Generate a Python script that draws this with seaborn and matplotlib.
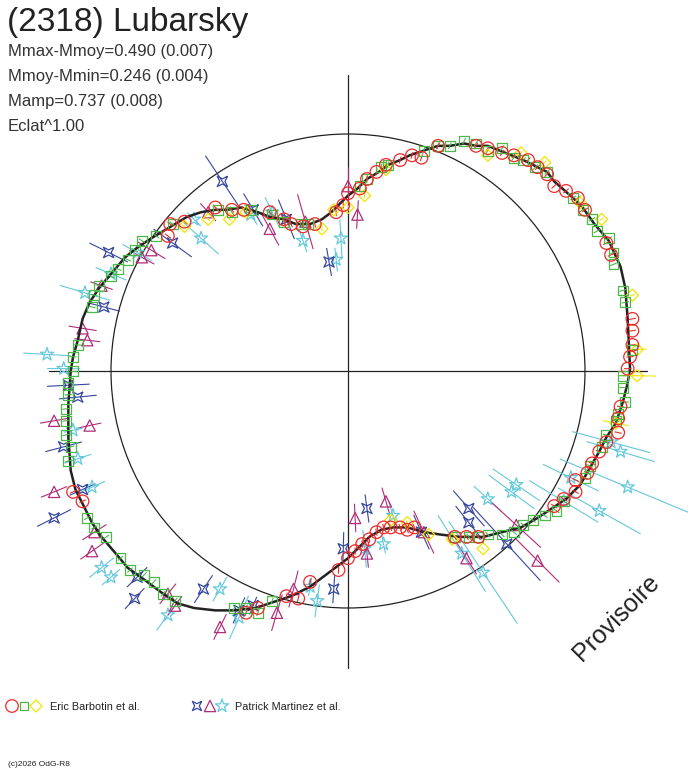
import numpy as np
import matplotlib
matplotlib.use("Agg")
import matplotlib.pyplot as plt
from matplotlib.collections import LineCollection
from matplotlib.patches import Circle
import pandas as pd
import seaborn as sns

# ---------------- text ----------------
TITLE = "(2318) Lubarsky"
STATS = ["Mmax-Mmoy=0.490 (0.007)", "Mmoy-Mmin=0.246 (0.004)",
         "Mamp=0.737 (0.008)", "Eclat^1.00"]
OBS1 = "Eric Barbotin et al."
OBS2 = "Patrick Martinez et al."
WATERMARK = "Provisoire"
COPYRIGHT = "(c)2026 OdG-R8"

# ---------------- data (units: reference circle radius = 1) ----------------
# fitted light curve, polar representation (x, y)
fit_curve = [
    (1.19, 0.01), (1.18, 0.22), (1.17, 0.35), (1.15, 0.44), (1.10, 0.55), (1.04, 0.62),
    (0.99, 0.69), (0.95, 0.73), (0.87, 0.80), (0.84, 0.84), (0.80, 0.86), (0.74, 0.89),
    (0.69, 0.91), (0.64, 0.93), (0.59, 0.95), (0.54, 0.95), (0.49, 0.96), (0.43, 0.95),
    (0.38, 0.95), (0.32, 0.93), (0.26, 0.91), (0.22, 0.89), (0.17, 0.87), (0.13, 0.84),
    (0.08, 0.81), (0.04, 0.77), (0.00, 0.74), (-0.03, 0.71), (-0.07, 0.67), (-0.11, 0.64),
    (-0.16, 0.62), (-0.22, 0.62), (-0.27, 0.64), (-0.33, 0.65), (-0.38, 0.67), (-0.45, 0.69),
    (-0.51, 0.68), (-0.56, 0.68), (-0.62, 0.67), (-0.68, 0.65), (-0.73, 0.62), (-0.78, 0.59),
    (-0.83, 0.56), (-0.89, 0.52), (-0.94, 0.48), (-1.00, 0.41), (-1.05, 0.35), (-1.09, 0.29),
    (-1.12, 0.22), (-1.14, 0.13), (-1.16, 0.06), (-1.17, 0.00), (-1.18, -0.14), (-1.18, -0.28),
    (-1.17, -0.42), (-1.15, -0.50), (-1.12, -0.56), (-1.08, -0.64), (-1.04, -0.70), (-0.98, -0.77),
    (-0.93, -0.83), (-0.86, -0.88), (-0.78, -0.94), (-0.72, -0.98), (-0.65, -1.00), (-0.56, -1.01),
    (-0.48, -1.01), (-0.39, -1.00), (-0.33, -0.98), (-0.24, -0.95), (-0.16, -0.91), (-0.08, -0.85),
    (0.00, -0.79), (0.05, -0.74), (0.09, -0.70), (0.14, -0.67), (0.19, -0.66), (0.25, -0.66),
    (0.32, -0.68), (0.39, -0.69), (0.47, -0.70), (0.57, -0.70), (0.65, -0.68), (0.73, -0.66),
    (0.80, -0.62), (0.86, -0.58), (0.92, -0.54), (0.98, -0.48), (1.02, -0.41), (1.06, -0.34),
    (1.09, -0.28), (1.13, -0.22), (1.16, -0.13), (1.18, -0.05), (1.19, 0.01),
]

# Barbotin: red circles (x, y)
barbotin_red = [
    (0.54, 0.95), (0.59, 0.94), (0.65, 0.92), (0.70, 0.91), (0.76, 0.89), (0.80, 0.86),
    (0.84, 0.83), (0.87, 0.78), (0.92, 0.76), (0.97, 0.73), (1.00, 0.68), (1.09, 0.54),
    (1.11, 0.49), (1.20, 0.22), (1.20, 0.17), (1.20, 0.11), (1.19, 0.06), (1.18, 0.01),
    (1.15, -0.15), (1.14, -0.20), (1.14, -0.26), (1.09, -0.30), (1.06, -0.34), (1.03, -0.39),
    (1.01, -0.43), (0.96, -0.46), (0.96, -0.51), (0.91, -0.54), (0.87, -0.57), (0.55, -0.70),
    (0.50, -0.70), (0.45, -0.70), (0.28, -0.66), (0.25, -0.67), (0.22, -0.66), (0.18, -0.66),
    (0.15, -0.66), (0.12, -0.68), (0.09, -0.71), (0.06, -0.73), (0.03, -0.76), (0.00, -0.79),
    (-0.04, -0.84), (-0.16, -0.89), (-0.21, -0.96), (-0.26, -0.95), (-0.38, -1.00), (-0.43, -1.02),
    (-1.12, -0.55), (-1.16, -0.51), (-0.44, 0.68), (-0.33, 0.67), (-0.27, 0.64), (-0.24, 0.62),
    (-0.19, 0.61), (-0.14, 0.62), (-0.05, 0.67), (-0.02, 0.70), (0.00, 0.75), (0.05, 0.77),
    (0.08, 0.81), (0.12, 0.84), (0.16, 0.87), (0.22, 0.89), (0.27, 0.91), (0.31, 0.90),
    (0.38, 0.95), (-0.75, 0.62), (-0.69, 0.63), (-0.76, 0.57), (-0.56, 0.69), (-0.49, 0.68),
]

# Barbotin: green squares (x, y)
barbotin_green = [
    (0.43, 0.95), (0.49, 0.97), (0.54, 0.96), (0.59, 0.93), (0.65, 0.94), (0.70, 0.90),
    (0.74, 0.89), (0.79, 0.86), (0.84, 0.84), (0.95, 0.73), (0.99, 0.68), (1.03, 0.64),
    (1.05, 0.59), (1.10, 0.56), (1.12, 0.50), (1.12, 0.45), (1.16, 0.34), (1.17, 0.29),
    (1.20, 0.09), (1.16, -0.02), (1.16, -0.07), (1.17, -0.13), (1.14, -0.18), (1.13, -0.21),
    (1.09, -0.27), (1.07, -0.32), (1.02, -0.40), (1.00, -0.45), (0.91, -0.55), (0.88, -0.59),
    (0.83, -0.61), (0.78, -0.63), (0.74, -0.65), (0.70, -0.68), (0.65, -0.69), (0.59, -0.69),
    (0.55, -0.70), (0.51, -0.70), (0.45, -0.70), (-0.32, -0.97), (-0.38, -1.02), (-0.43, -1.00),
    (-0.48, -1.00), (-0.73, -0.97), (-0.78, -0.94), (-0.82, -0.89), (-0.86, -0.86), (-0.92, -0.84),
    (-0.96, -0.79), (-1.02, -0.70), (-1.07, -0.66), (-1.10, -0.62), (-1.18, -0.38), (-1.17, -0.32),
    (-1.19, -0.27), (-1.19, -0.21), (-1.19, -0.16), (-1.18, -0.10), (-1.18, -0.05), (-1.16, 0.00),
    (-1.16, 0.06), (-1.14, 0.11), (-1.08, 0.27), (-1.07, 0.32), (-1.05, 0.36), (-1.00, 0.40),
    (-0.97, 0.43), (-0.93, 0.47), (-0.90, 0.51), (-0.87, 0.55), (-0.81, 0.57), (-0.74, 0.62),
    (-0.55, 0.68), (-0.49, 0.67), (-0.41, 0.68), (-0.32, 0.66), (-0.27, 0.63), (-0.20, 0.62),
    (-0.17, 0.62), (0.05, 0.78), (0.08, 0.81), (0.14, 0.86), (0.17, 0.87), (0.32, 0.93),
    (0.38, 0.95),
]

# Barbotin: yellow diamonds (x, y, radial error)
barbotin_yellow = [
    (0.59, 0.91, 0.01), (0.73, 0.92, 0.01), (0.83, 0.88, 0.01), (0.98, 0.71, 0.01),
    (1.07, 0.64, 0.01), (1.20, 0.32, 0.01), (1.22, 0.09, 0.04), (1.22, -0.02, 0.08),
    (1.13, -0.22, 0.055), (0.57, -0.75, 0.01), (0.44, -0.71, 0.01), (0.18, -0.63, 0.01),
    (0.25, -0.64, 0.01), (0.34, -0.69, 0.01), (-0.69, 0.61, 0.01), (-0.59, 0.64, 0.01),
    (-0.50, 0.64, 0.01), (-0.43, 0.67, 0.01), (-0.06, 0.68, 0.01), (0.00, 0.69, 0.01),
    (-0.11, 0.60, 0.01), (0.07, 0.74, 0.01), (0.16, 0.85, 0.01),
]
barbotin_err = 0.015

# Martinez: blue 4-point stars (x, y, radial error)
martinez_blue = [
    (-0.53, 0.80, 0.13), (-0.74, 0.54, 0.10), (-1.01, 0.50, 0.09), (-1.03, 0.27, 0.07),
    (-0.40, 0.68, 0.08), (-0.26, 0.64, 0.09), (-0.08, 0.46, 0.06), (-1.18, -0.06, 0.09),
    (-1.14, -0.11, 0.08), (-1.20, -0.32, 0.08), (-1.12, -0.50, 0.06), (-1.24, -0.62, 0.08),
    (-0.89, -0.87, 0.06), (-0.90, -0.96, 0.06), (-0.61, -0.92, 0.07), (-0.46, -1.01, 0.06),
    (-0.40, -0.99, 0.04), (-0.02, -0.75, 0.07), (-0.06, -0.92, 0.06), (0.08, -0.58, 0.06),
    (0.31, -0.68, 0.08), (0.51, -0.58, 0.10), (0.51, -0.64, 0.09), (0.67, -0.73, 0.21),
]

# Martinez: magenta triangles (x, y, radial error)
martinez_magenta = [
    (-0.83, 0.51, 0.07), (-0.87, 0.48, 0.06), (-1.04, 0.36, 0.05), (-1.12, 0.18, 0.06),
    (-1.10, 0.13, 0.055), (-0.59, 0.67, 0.05), (-0.33, 0.60, 0.08), (-0.18, 0.63, 0.12),
    (0.00, 0.78, 0.08), (0.04, 0.66, 0.06), (-1.24, -0.21, 0.06), (-1.09, -0.23, 0.05),
    (-1.24, -0.51, 0.06), (-1.07, -0.68, 0.06), (-1.08, -0.76, 0.06), (-0.76, -0.94, 0.055),
    (-0.73, -0.99, 0.05), (-0.54, -1.08, 0.06), (-0.23, -0.92, 0.08), (-0.30, -1.02, 0.08),
    (0.03, -0.62, 0.06), (0.16, -0.55, 0.06), (0.08, -0.77, 0.06), (0.32, -0.68, 0.10),
    (0.71, -0.65, 0.14), (0.80, -0.80, 0.13), (0.50, -0.79, 0.08),
]

# Martinez: cyan stars (x, y, radial error)
martinez_cyan = [
    (-0.62, 0.56, 0.10), (-0.65, 0.64, 0.04), (-0.89, 0.50, 0.07), (-1.00, 0.41, 0.07),
    (-1.11, 0.33, 0.11), (-1.27, 0.07, 0.10), (-1.20, 0.01, 0.07), (-0.41, 0.66, 0.05),
    (-0.32, 0.67, 0.07), (-0.19, 0.55, 0.05), (-0.03, 0.56, 0.08), (-0.05, 0.47, 0.05),
    (-1.16, -0.25, 0.04), (-1.14, -0.37, 0.06), (-1.08, -0.49, 0.06), (-1.04, -0.83, 0.066),
    (-1.00, -0.87, 0.05), (-0.76, -1.03, 0.08), (-0.54, -0.92, 0.06), (-0.46, -1.04, 0.10),
    (-0.16, -0.91, 0.04), (-0.13, -0.97, 0.07), (0.15, -0.73, 0.04), (0.07, -0.75, 0.08),
    (0.19, -0.61, 0.06), (0.71, -0.48, 0.12), (0.69, -0.51, 0.12), (0.59, -0.54, 0.08),
    (1.15, -0.34, 0.15), (1.11, -0.30, 0.17), (1.18, -0.49, 0.31), (1.06, -0.59, 0.20),
    (0.94, -0.45, 0.13), (0.91, -0.55, 0.17), (0.48, -0.77, 0.19), (0.57, -0.85, 0.26),
]

# ---------------- style ----------------
RED, GREEN, YELLOW = "#ee2a2a", "#4cb848", "#f2e400"
BLUE, MAGENTA, CYAN = "#36469e", "#b02c78", "#64c8dc"
INK = "#222222"
STAR4 = [(1, 1), (0, 0.5), (-1, 1), (-0.5, 0), (-1, -1), (0, -0.5), (1, -1), (0.5, 0), (1, 1)]
SIZE = {"o": 82, "s": 50, "D": 38, "^": 66, "*": 100, "star4": 55}

sns.set_theme(style="white")
plt.rcParams["font.family"] = ["Liberation Sans", "DejaVu Sans"]

W, H, DPI = 688, 768, 100
CX, CY, R = 348, 371, 237  # layout: centre and unit radius in pixels

fig = plt.figure(figsize=(W / DPI, H / DPI), dpi=DPI)
fig.patch.set_facecolor("white")
ax = fig.add_axes([0, 0, 1, 1])
ax.set_xlim(-CX / R, (W - CX) / R)
ax.set_ylim(-(H - CY) / R, CY / R)
ax.axis("off")

# reference circle and cross axes
ax.add_patch(Circle((0, 0), 1.0, fill=False, lw=0.9, ec=INK, zorder=1))
ax.plot([-1.26, 1.26], [0, 0], color=INK, lw=0.9, zorder=1)
ax.plot([0, 0], [-1.255, 1.25], color=INK, lw=0.9, zorder=1)


def radial_segments(x, y, e):
    x = np.asarray(x, float); y = np.asarray(y, float); e = np.asarray(e, float) * np.ones_like(x)
    r = np.hypot(x, y)
    ux, uy = x / r, y / r
    p0 = np.column_stack([x - e * ux, y - e * uy])
    p1 = np.column_stack([x + e * ux, y + e * uy])
    return np.stack([p0, p1], axis=1)


def draw_series(points, color, marker, size, err=None, z=3):
    arr = np.array(points, float)
    x, y = arr[:, 0], arr[:, 1]
    e = arr[:, 2] if arr.shape[1] > 2 else (err if err is not None else 0.0)
    ax.add_collection(LineCollection(radial_segments(x, y, e), colors=color, lw=0.8, zorder=z))
    df = pd.DataFrame({"x": x, "y": y})
    sns.scatterplot(data=df, x="x", y="y", ax=ax, marker=marker, s=size, color=color,
                    facecolor="none", edgecolor=color, linewidth=0.9, zorder=z + 0.1,
                    legend=False)


# Martinez set
draw_series(martinez_cyan, CYAN, "*", SIZE["*"], z=3)
draw_series(martinez_blue, BLUE, STAR4, SIZE["star4"], z=3)
draw_series(martinez_magenta, MAGENTA, "^", SIZE["^"], z=3)

# fitted curve
curve = pd.DataFrame(fit_curve, columns=["x", "y"])
sns.lineplot(data=curve, x="x", y="y", sort=False, estimator=None, ax=ax,
             color=INK, lw=1.8, zorder=4)

# Barbotin set
draw_series(barbotin_yellow, YELLOW, "D", SIZE["D"], z=5)
draw_series(barbotin_green, GREEN, "s", SIZE["s"], err=barbotin_err, z=5)
draw_series(barbotin_red, RED, "o", SIZE["o"], err=barbotin_err, z=5)

ax.set_xlabel(""); ax.set_ylabel("")


# ---------------- texts (figure pixel layout) ----------------
def fx(px):
    return px / W


def fy(py):
    return 1 - py / H


fig.text(fx(7), fy(31), TITLE, fontsize=24, color=INK, va="baseline", ha="left")
for i, s in enumerate(STATS):
    fig.text(fx(8), fy(56 + 25 * i), s, fontsize=12, color="#333333", va="baseline", ha="left")

fig.text(fx(616), fy(618), WATERMARK, fontsize=18, color=INK, rotation=45,
         ha="center", va="center", rotation_mode="anchor")

# legend
leg_y = fy(706)
for px, m, c, s in [(12, "o", RED, SIZE["o"]), (24, "s", GREEN, SIZE["s"] * 0.8),
                    (36, "D", YELLOW, SIZE["D"]), (197, STAR4, BLUE, SIZE["star4"] * 0.8),
                    (210, "^", MAGENTA, SIZE["^"]), (222, "*", CYAN, SIZE["*"])]:
    ax.scatter([fx(px)], [leg_y], transform=fig.transFigure, marker=m, s=s,
               facecolor="none", edgecolor=c, linewidth=0.9, clip_on=False)
fig.text(fx(50), fy(710), OBS1, fontsize=7.8, color=INK, va="baseline", ha="left")
fig.text(fx(235), fy(710), OBS2, fontsize=7.8, color=INK, va="baseline", ha="left")
fig.text(fx(8), fy(766), COPYRIGHT, fontsize=6, color=INK, va="baseline", ha="left")

fig.savefig("out.png", dpi=DPI, facecolor="white")
